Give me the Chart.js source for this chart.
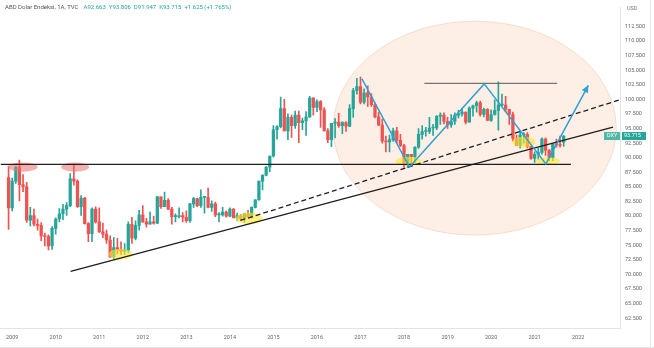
<!DOCTYPE html>
<html>
<head>
<meta charset="utf-8">
<script src="https://cdn.jsdelivr.net/npm/chart.js@4.4.0/dist/chart.umd.min.js"></script>
<style>
  html, body { margin: 0; padding: 0; background: #fff; }
  #wrap { position: relative; width: 654px; height: 348px; }
</style>
</head>
<body>
<div id="wrap"><canvas id="chart" width="654" height="348"></canvas></div>
<script>
// monthly DXY candles, first one is Dec 2008 (month -1, Jan 2009 = 0)
const firstMonth = -1;
const yearLabels = ["2009", "2010", "2011", "2012", "2013", "2014", "2015", "2016", "2017", "2018", "2019", "2020", "2021", "2022"];
const priceTicks = [62.5, 65, 67.5, 70, 72.5, 75, 77.5, 80, 82.5, 85, 87.5, 90, 92.5, 95, 97.5, 100, 102.5, 105, 107.5, 110, 112.5, 115];

const opens = [
    86.6,
    81.4, 86.0, 88.4, 85.4, 85.0, 79.3, 80.1, 78.6, 78.4, 76.6, 76.5, 74.9,
    77.9, 79.5, 80.4, 81.2, 81.8, 86.4, 86.0, 81.6, 83.1, 78.7, 77.0, 81.2,
    79.0, 77.3, 76.9, 75.9, 73.0, 74.6, 74.3, 74.0, 74.1, 78.6, 76.2, 78.4,
    80.2, 79.0, 78.6, 79.0, 78.8, 83.3, 81.6, 82.7, 81.2, 79.9, 79.9, 80.1,
    79.8, 79.2, 82.1, 83.0, 81.8, 83.2, 83.2, 81.5, 82.1, 80.2, 80.2, 80.7,
    80.0, 81.2, 79.7, 80.1, 79.5, 80.4, 79.8, 81.5, 82.8, 86.0, 87.0, 88.4,
    90.3, 94.8, 95.3, 98.4, 94.6, 96.9, 95.5, 97.3, 96.0, 96.3, 97.0, 100.2,
    98.6, 99.6, 98.2, 94.6, 93.1, 95.9, 96.1, 95.5, 96.0, 95.4, 98.4, 101.5,
    102.2, 99.5, 101.1, 100.4, 99.1, 97.0, 95.6, 92.9, 92.7, 93.1, 94.6, 93.0,
    92.1, 89.1, 90.6, 90.2, 91.8, 94.0, 94.5, 94.5, 95.1, 95.1, 97.1, 97.3,
    96.2, 95.6, 96.2, 97.3, 97.5, 97.8, 96.1, 98.5, 98.9, 99.4, 97.4, 98.3,
    96.4, 97.4, 98.1, 99.0, 99.0, 98.3, 97.4, 93.3, 92.1, 93.9, 94.0, 91.9,
    89.9, 90.6, 90.9, 93.2, 91.3, 90.0, 92.4, 92.2, 92.663
];
const highs = [
    88.5,
    86.5, 88.5, 89.6, 87.1, 85.8, 81.5, 81.2, 79.5, 78.9, 77.1, 76.8, 78.2,
    79.7, 81.3, 82.0, 82.3, 87.3, 88.7, 86.2, 83.5, 83.2, 78.9, 81.4, 81.6,
    81.4, 78.8, 77.6, 76.6, 76.3, 76.2, 75.6, 75.3, 79.0, 79.8, 79.2, 81.0,
    81.8, 79.6, 80.7, 80.0, 83.4, 83.3, 84.1, 83.0, 81.5, 80.4, 81.4, 80.6,
    80.9, 82.2, 83.2, 83.1, 84.5, 83.4, 84.8, 82.6, 82.4, 80.6, 81.5, 80.9,
    81.4, 81.3, 80.5, 80.3, 80.5, 81.0, 81.6, 82.8, 86.0, 87.1, 88.5, 90.3,
    95.5, 95.5, 100.4, 100.0, 97.5, 97.3, 98.0, 98.0, 96.8, 97.9, 100.5, 100.3,
    99.9, 99.8, 98.6, 95.0, 95.9, 96.7, 97.6, 96.2, 96.2, 99.1, 101.9, 103.6,
    103.8, 101.8, 102.3, 101.0, 99.4, 97.8, 96.6, 93.7, 93.9, 95.1, 95.2, 94.0,
    92.3, 90.6, 90.6, 91.9, 95.0, 95.5, 95.2, 96.9, 95.7, 97.2, 97.7, 97.7,
    96.9, 97.4, 97.7, 98.1, 98.4, 97.8, 98.7, 99.0, 99.7, 99.7, 98.5, 98.4,
    98.2, 99.9, 103.0, 100.9, 100.5, 98.3, 97.8, 93.9, 94.7, 94.3, 94.3, 92.0,
    91.0, 91.6, 93.4, 93.4, 91.4, 92.4, 93.2, 93.7, 93.806
];
const lows = [
    77.7,
    80.9, 85.6, 82.6, 84.2, 78.9, 78.3, 78.3, 77.6, 75.8, 74.9, 74.2, 74.3,
    76.9, 79.0, 79.4, 80.1, 81.6, 85.3, 81.5, 80.1, 78.6, 75.6, 75.6, 78.8,
    77.2, 76.3, 75.3, 72.9, 72.7, 73.5, 73.4, 73.4, 73.7, 75.3, 75.9, 77.6,
    78.9, 78.1, 78.6, 78.6, 78.7, 81.3, 81.6, 81.1, 78.6, 79.0, 79.7, 79.0,
    78.9, 78.9, 81.5, 81.6, 81.5, 80.5, 81.4, 80.8, 79.9, 79.0, 80.0, 79.8,
    79.9, 79.8, 79.2, 79.2, 78.9, 79.8, 79.7, 81.4, 82.7, 84.5, 86.9, 87.6,
    90.1, 93.2, 95.1, 94.6, 93.1, 93.5, 95.0, 92.6, 94.8, 93.8, 96.9, 97.3,
    97.9, 95.2, 94.6, 92.6, 91.9, 93.4, 95.2, 94.1, 94.5, 95.3, 96.9, 100.9,
    99.2, 99.2, 98.8, 98.8, 96.8, 95.5, 92.5, 91.0, 91.0, 92.8, 92.5, 91.9,
    88.4, 88.3, 88.9, 89.2, 91.6, 93.2, 93.7, 94.1, 93.8, 94.8, 95.7, 95.8,
    95.0, 95.2, 95.7, 96.8, 97.1, 95.8, 96.1, 97.1, 97.8, 97.1, 97.0, 96.4,
    96.2, 97.3, 94.7, 98.8, 97.9, 95.7, 92.9, 92.1, 91.7, 92.5, 91.7, 89.7,
    89.2, 89.7, 90.6, 90.4, 89.5, 89.5, 91.8, 91.8, 91.947
];
const closes = [
    81.4,
    86.0, 88.4, 85.4, 85.0, 79.3, 80.1, 78.6, 78.4, 76.6, 76.5, 74.9, 77.9,
    79.5, 80.4, 81.2, 81.8, 86.4, 86.0, 81.6, 83.1, 78.7, 77.0, 81.2, 79.0,
    77.3, 76.9, 75.9, 73.0, 74.6, 74.3, 74.0, 74.1, 78.6, 76.2, 78.4, 80.2,
    79.0, 78.6, 79.0, 78.8, 83.3, 81.6, 82.7, 81.2, 79.9, 79.9, 80.1, 79.8,
    79.2, 82.1, 83.0, 81.8, 83.2, 83.2, 81.5, 82.1, 80.2, 80.2, 80.7, 80.0,
    81.2, 79.7, 80.1, 79.5, 80.4, 79.8, 81.5, 82.8, 86.0, 87.0, 88.4, 90.3,
    94.8, 95.3, 98.4, 94.6, 96.9, 95.5, 97.3, 96.0, 96.3, 97.0, 100.2, 98.6,
    99.6, 98.2, 94.6, 93.1, 95.9, 96.1, 95.5, 96.0, 95.4, 98.4, 101.5, 102.2,
    99.5, 101.1, 100.4, 99.1, 97.0, 95.6, 92.9, 92.7, 93.1, 94.6, 93.0, 92.1,
    89.1, 90.6, 90.2, 91.8, 94.0, 94.5, 94.5, 95.1, 95.1, 97.1, 97.3, 96.2,
    95.6, 96.2, 97.3, 97.5, 97.8, 96.1, 98.5, 98.9, 99.4, 97.4, 98.3, 96.4,
    97.4, 98.1, 99.0, 99.0, 98.3, 97.4, 93.3, 92.1, 93.9, 94.0, 91.9, 89.9,
    90.6, 90.9, 93.2, 91.3, 90.0, 92.4, 92.2, 92.1, 93.715
];

// drawings, in (month, price)
const supportLine = [[-4, 88.85], [154, 88.85]];
const topLine = [[113.6, 102.75], [150.2, 102.75]];
const trendSolid = [[16.1, 70.54], [165.6, 95.25]];
const trendDashed = [[62.9, 79.25], [167.8, 100.0]];
const zigzag = [[96.4, 103.5], [109.5, 88.4], [130.1, 102.65], [147.1, 88.95], [158.8, 102.4]];
const zoneEllipse = [88.5, 166.5, 76.74, 113.4];
const redMarks = [[-1.2, 7.0, 87.6, 89.2], [13.5, 21.2, 87.6, 89.2]];
const yellowMarks = [
    [26.6, 33.2, 72.55, 74.4],
    [61.6, 69.0, 78.6, 80.6],
    [105.6, 113.0, 88.65, 90.15],
    [137.8, 144.2, 91.8, 93.65],
    [144.2, 151.0, 88.9, 90.1]
];

const up = "#26a69a";
const down = "#ef5350";
const months = opens.map((_, i) => firstMonth + i);
const isUp = (i) => closes[i] >= opens[i];

const drawings = {
    id: "drawings",
    beforeDatasetsDraw(chart) {
        const { ctx, chartArea: a, scales } = chart;
        ctx.save();
        ctx.beginPath();
        ctx.rect(a.left, a.top, a.right - a.left, a.bottom - a.top);
        ctx.clip();
        ellipse(ctx, scales, zoneEllipse);
        ctx.fillStyle = "rgba(248, 205, 175, 0.33)";
        ctx.fill();
        ctx.strokeStyle = "rgba(240, 195, 165, 0.5)";
        ctx.lineWidth = 1;
        ctx.stroke();
        ctx.restore();
    },
    afterDatasetsDraw(chart) {
        const { ctx, chartArea: a, scales } = chart;
        const { x, y } = scales;
        ctx.save();
        ctx.beginPath();
        ctx.rect(a.left, a.top, a.right - a.left, a.bottom - a.top);
        ctx.clip();

        yellowMarks.forEach((m) => {
            ellipse(ctx, scales, m);
            ctx.fillStyle = "rgba(255, 232, 40, 0.6)";
            ctx.fill();
        });
        redMarks.forEach((m) => {
            ellipse(ctx, scales, m);
            ctx.fillStyle = "rgba(238, 110, 110, 0.55)";
            ctx.fill();
        });

        polyline(ctx, scales, supportLine, "#1f1f1f", 1.3, []);
        polyline(ctx, scales, topLine, "#555555", 1, []);
        polyline(ctx, scales, trendSolid, "#1f1f1f", 1.4, []);
        polyline(ctx, scales, trendDashed, "#1f1f1f", 1.3, [5, 3]);
        polyline(ctx, scales, zigzag, "#2f9fd4", 1.5, []);

        // arrow head on the last zigzag leg
        const p1 = zigzag[zigzag.length - 2];
        const p2 = zigzag[zigzag.length - 1];
        const x1 = x.getPixelForValue(p1[0]), y1 = y.getPixelForValue(p1[1]);
        const x2 = x.getPixelForValue(p2[0]), y2 = y.getPixelForValue(p2[1]);
        const ang = Math.atan2(y2 - y1, x2 - x1);
        const len = 8;
        ctx.beginPath();
        ctx.moveTo(x2, y2);
        ctx.lineTo(x2 - len * Math.cos(ang - 0.45), y2 - len * Math.sin(ang - 0.45));
        ctx.lineTo(x2 - len * Math.cos(ang + 0.45), y2 - len * Math.sin(ang + 0.45));
        ctx.closePath();
        ctx.fillStyle = "#2f9fd4";
        ctx.fill();
        ctx.restore();
    },
    afterDraw(chart) {
        const { ctx, chartArea: a, scales } = chart;
        const last = closes.length - 1;
        ctx.save();
        ctx.font = "5.5px Roboto, sans-serif";
        ctx.textBaseline = "middle";

        // header
        ctx.fillStyle = "#555";
        ctx.textAlign = "left";
        const title = "ABD Dolar Endeksi, 1A, TVC";
        ctx.font = "6px Roboto, sans-serif";
        ctx.fillText(title, 5, 7);
        const ohlc = "A92.663  Y93.806  D91.947  K93.715  +1.625 (+1.765%)";
        ctx.fillStyle = up;
        ctx.fillText(ohlc, 10 + ctx.measureText(title).width, 7);
        ctx.font = "5.5px Roboto, sans-serif";

        // unit label
        ctx.fillStyle = "#fff";
        ctx.fillRect(a.right + 2, 5, 24, 8);
        ctx.fillStyle = "#777";
        ctx.fillText("USD", a.right + 6, 9);

        // last price label
        const ly = scales.y.getPixelForValue(closes[last]);
        ctx.fillStyle = "#4fb8a9";
        ctx.fillRect(a.right - 17, ly - 4, 16, 8);
        ctx.fillStyle = up;
        ctx.fillRect(a.right + 1, ly - 4, 24, 8);
        ctx.fillStyle = "#fff";
        ctx.fillText("DXY", a.right - 14, ly);
        ctx.fillText(closes[last].toFixed(3), a.right + 3, ly);

        // outer frame
        ctx.strokeStyle = "#e6e6e6";
        ctx.lineWidth = 1;
        ctx.beginPath();
        ctx.moveTo(650.5, 0);
        ctx.lineTo(650.5, 348);
        ctx.moveTo(0, 347.5);
        ctx.lineTo(654, 347.5);
        ctx.stroke();
        ctx.restore();
    }
};

function ellipse(ctx, scales, m) {
    const l = scales.x.getPixelForValue(m[0]);
    const r = scales.x.getPixelForValue(m[1]);
    const b = scales.y.getPixelForValue(m[2]);
    const t = scales.y.getPixelForValue(m[3]);
    ctx.beginPath();
    ctx.ellipse((l + r) / 2, (t + b) / 2, (r - l) / 2, (b - t) / 2, 0, 0, Math.PI * 2);
}

function polyline(ctx, scales, pts, color, width, dash) {
    ctx.beginPath();
    pts.forEach((p, i) => {
        const px = scales.x.getPixelForValue(p[0]);
        const py = scales.y.getPixelForValue(p[1]);
        if (i === 0) ctx.moveTo(px, py);
        else ctx.lineTo(px, py);
    });
    ctx.strokeStyle = color;
    ctx.lineWidth = width;
    ctx.setLineDash(dash);
    ctx.stroke();
    ctx.setLineDash([]);
}

const candleColor = (c) => (isUp(c.dataIndex) ? up : down);

new Chart(document.getElementById("chart"), {
    type: "bar",
    data: {
        datasets: [
            {
                label: "body",
                data: months.map((m, i) => ({ x: m, y: [Math.min(opens[i], closes[i]), Math.max(opens[i], closes[i])] })),
                backgroundColor: candleColor,
                barThickness: 2.6,
                minBarLength: 1,
                grouped: false,
            },
            {
                label: "wick",
                data: months.map((m, i) => ({ x: m, y: [lows[i], highs[i]] })),
                backgroundColor: candleColor,
                barThickness: 1,
                grouped: false,
            },
        ],
    },
    options: {
        responsive: false,
        animation: false,
        devicePixelRatio: 1,
        layout: { padding: 0 },
        plugins: {
            legend: { display: false },
            tooltip: { enabled: false },
        },
        scales: {
            x: {
                type: "linear",
                offset: false,
                min: -3.14,
                max: 167.8,
                grid: { display: false, drawTicks: false },
                border: { display: true, color: "#e3e3e3" },
                afterBuildTicks: (s) => {
                    s.ticks = yearLabels.map((_, i) => ({ value: i * 12 }));
                },
                afterFit: (s) => { s.height = 20; },
                ticks: {
                    autoSkip: false,
                    maxRotation: 0,
                    padding: 6,
                    color: "#666",
                    font: { family: "Roboto", size: 5.5 },
                    callback: (v) => yearLabels[Math.round(v / 12)],
                },
            },
            y: {
                type: "linear",
                position: "right",
                min: 60.83,
                max: 115.77,
                grid: { display: false, drawTicks: false },
                border: { display: true, color: "#e3e3e3" },
                afterBuildTicks: (s) => {
                    s.ticks = priceTicks.map((v) => ({ value: v }));
                },
                afterFit: (s) => { s.width = 33; },
                ticks: {
                    padding: 4,
                    color: "#666",
                    font: { family: "Roboto", size: 5.5 },
                    callback: (v) => v.toFixed(3),
                },
            },
        },
    },
    plugins: [drawings],
});
</script>
</body>
</html>
